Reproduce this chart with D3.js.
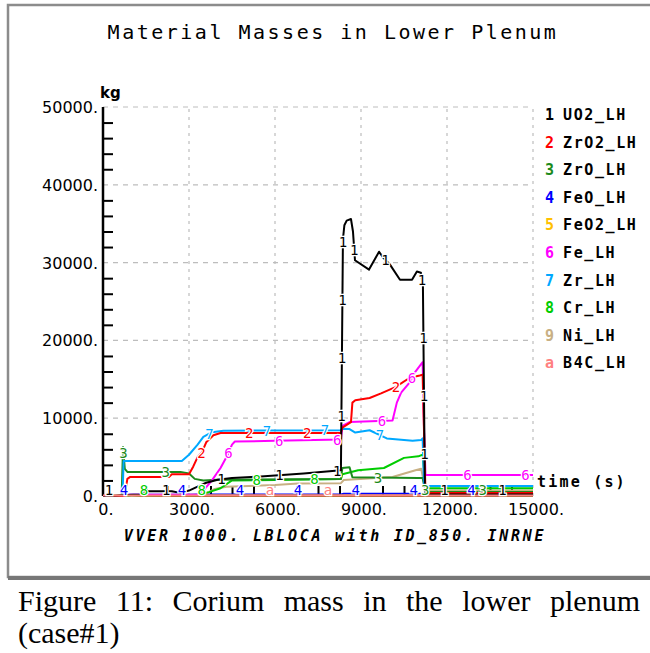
<!DOCTYPE html>
<html>
<head>
<meta charset="utf-8">
<script src="https://cdn.jsdelivr.net/npm/d3@7"></script>
<style>
  body { margin: 0; background: #fff; }
  svg { display: block; }
</style>
</head>
<body>
<div id="chart"></div>
<script>
// time (s) / mass (kg) pairs
const uo2 = [[0,0],[300,0],[600,100],[1300,200],[1500,600],[2400,600],[2700,400],[3000,700],[3300,1200],[3600,1700],[4000,2100],[4500,2300],[5500,2500],[7000,2900],[8300,3300],[8370,33000],[8420,34800],[8500,35400],[8650,35600],[8720,34000],[8790,30300],[9280,29100],[9630,31400],[9770,30650],[10000,29800],[10360,27800],[10780,27800],[10950,28850],[11090,28700],[11160,27000],[11230,500],[11350,200],[15000,200]];
const zro2 = [[0,0],[750,0],[850,2200],[950,2450],[2300,2450],[2400,2800],[3000,2800],[3150,3800],[3300,5000],[3450,5600],[3600,6900],[3850,7800],[4100,8100],[8300,8100],[8350,8800],[8650,9500],[8700,12000],[8800,12300],[9300,12600],[9700,13200],[10200,14000],[10700,15200],[11050,15500],[11150,15600],[11250,400],[15000,400]];
const zro = [[0,0],[650,0],[700,6300],[760,3500],[850,3100],[2700,3100],[3000,2900],[3200,2200],[3500,2000],[4000,2100],[8300,2200],[8350,3600],[8600,3700],[8700,2400],[11000,2300],[11150,2300],[11250,500],[15000,500]];
const feo = [[0,0],[600,0],[800,150],[3000,150],[3300,200],[8300,200],[8400,300],[11100,300],[11250,100],[15000,100]];
const feo2 = [[0,0],[800,60],[8300,80],[11200,60],[15000,60]];
const fe = [[0,0],[700,0],[900,150],[3300,150],[3500,700],[3800,2000],[4100,3600],[4350,5300],[4500,6600],[4600,7000],[6000,7100],[8300,7250],[8350,9000],[8600,9500],[10100,9700],[10250,12000],[10400,13300],[10700,14600],[10900,16000],[11150,17200],[11200,8500],[11250,2700],[15000,2700]];
const zr = [[0,0],[680,0],[720,4500],[2750,4500],[3000,5300],[3300,6600],[3500,7600],[3800,8200],[4200,8400],[8300,8450],[8350,8650],[8600,8600],[8800,8150],[9300,8450],[9900,7400],[10800,7100],[11100,7200],[11150,7400],[11200,1300],[15000,1300]];
const cr = [[0,0],[800,0],[1000,100],[3300,150],[3700,500],[4100,1000],[4500,2000],[6000,2050],[8300,2200],[8350,2800],[8900,3300],[9800,3600],[10500,4900],[11000,5100],[11150,5300],[11250,1000],[15000,1000]];
const ni = [[0,0],[1000,0],[1300,100],[3500,150],[3900,900],[4300,1200],[6000,1400],[6800,1600],[8300,1650],[8400,2050],[10100,2450],[10900,3300],[11100,3500],[11250,700],[15000,700]];
const b4c = [[0,80],[15000,80]];

const seriesNames = ["UO2_LH", "ZrO2_LH", "ZrO_LH", "FeO_LH", "FeO2_LH", "Fe_LH", "Zr_LH", "Cr_LH", "Ni_LH", "B4C_LH"];
const seriesSymbols = ["1", "2", "3", "4", "5", "6", "7", "8", "9", "a"];
const seriesColors = ["#000000", "#ff0000", "#1b8a1b", "#0000ff", "#ffc000", "#ff00ff", "#00a8ff", "#00cc00", "#c8b084", "#ff8080"];
const seriesData = [uo2, zro2, zro, feo, feo2, fe, zr, cr, ni, b4c];

const xTicks = [0, 3000, 6000, 9000, 12000, 15000];
const yTicks = [0, 10000, 20000, 30000, 40000, 50000];

const width = 650, height = 653;
const svg = d3.select("#chart").append("svg")
    .attr("width", width)
    .attr("height", height);

// frame
svg.append("rect")
    .attr("x", 8).attr("y", 5)
    .attr("width", 660).attr("height", 572)
    .attr("fill", "none")
    .attr("stroke", "#8c8c8c")
    .attr("stroke-width", 2.5);
svg.append("line")
    .attr("x1", 8).attr("x2", 650)
    .attr("y1", 578).attr("y2", 578)
    .attr("stroke", "#777")
    .attr("stroke-width", 4);

const x = d3.scaleLinear().domain([0, 15000]).range([103, 533]);
const y = d3.scaleLinear().domain([0, 50000]).range([496, 107]);

// title
svg.append("text")
    .attr("x", 333).attr("y", 39)
    .attr("text-anchor", "middle")
    .style("font-family", "DejaVu Sans Mono")
    .style("font-size", "20px")
    .style("letter-spacing", "2.5px")
    .text("Material Masses in Lower Plenum");

// grid
const grid = svg.append("g");
grid.selectAll(".hgrid")
    .data(yTicks.filter(d => d > 0))
    .enter().append("line")
    .attr("x1", x(0)).attr("x2", x(15000))
    .attr("y1", d => y(d)).attr("y2", d => y(d))
    .attr("stroke", "#bdbdbd")
    .attr("stroke-width", 1.2)
    .attr("stroke-dasharray", "5,5");
grid.selectAll(".vgrid")
    .data(xTicks.filter(d => d > 0))
    .enter().append("line")
    .attr("x1", d => x(d)).attr("x2", d => x(d))
    .attr("y1", y(0)).attr("y2", y(50000))
    .attr("stroke", "#bdbdbd")
    .attr("stroke-width", 1.2)
    .attr("stroke-dasharray", "3,5");

// y axis: minor ticks inside, no major tick marks
const yAxis = d3.axisRight(y)
    .tickValues(d3.range(2000, 50000, 2000).filter(d => d % 10000 !== 0))
    .tickSize(10)
    .tickFormat("");
const yAxisG = svg.append("g")
    .attr("transform", `translate(${x(0)},0)`)
    .call(yAxis);
yAxisG.select(".domain").remove();
yAxisG.selectAll(".tick line").attr("stroke", "#000").attr("stroke-width", 2);
svg.append("line")
    .attr("x1", x(0)).attr("x2", x(0))
    .attr("y1", y(50000)).attr("y2", y(0))
    .attr("stroke", "#000").attr("stroke-width", 2.5);

svg.selectAll(".ylab")
    .data(yTicks)
    .enter().append("text")
    .attr("x", 98)
    .attr("y", d => y(d) + 6)
    .attr("text-anchor", "end")
    .style("font-family", "DejaVu Sans")
    .style("font-size", "16px")
    .text(d => d + ".");

// x axis: minor ticks pointing up every 750 s
const xAxis = d3.axisTop(x)
    .tickValues(d3.range(750, 15000, 750).filter(d => d % 3000 !== 0))
    .tickSize(10)
    .tickFormat("");
const xAxisG = svg.append("g")
    .attr("transform", `translate(0,${y(0)})`)
    .call(xAxis);
xAxisG.select(".domain").remove();
xAxisG.selectAll(".tick line").attr("stroke", "#000").attr("stroke-width", 2);
svg.append("line")
    .attr("x1", x(0)).attr("x2", x(15000))
    .attr("y1", y(0)).attr("y2", y(0))
    .attr("stroke", "#000").attr("stroke-width", 2);

svg.selectAll(".xlab")
    .data(xTicks)
    .enter().append("text")
    .attr("x", d => x(d) + 3)
    .attr("y", 515)
    .attr("text-anchor", "middle")
    .style("font-family", "DejaVu Sans")
    .style("font-size", "16px")
    .text(d => d + ".");

svg.append("text")
    .attr("x", 100).attr("y", 98)
    .style("font-family", "DejaVu Sans")
    .style("font-weight", "bold")
    .style("font-size", "15px")
    .text("kg");

svg.append("text")
    .attr("x", 537).attr("y", 487)
    .style("font-family", "DejaVu Sans Mono")
    .style("font-weight", "bold")
    .style("font-size", "15px")
    .style("letter-spacing", "2.2px")
    .text("time (s)");

svg.append("text")
    .attr("x", 335).attr("y", 541)
    .attr("text-anchor", "middle")
    .style("font-family", "DejaVu Sans Mono")
    .style("font-style", "italic")
    .style("font-weight", "bold")
    .style("font-size", "15px")
    .style("letter-spacing", "2.7px")
    .text("VVER 1000. LBLOCA with ID_850. INRNE");

// curves
const line = d3.line()
    .x(d => x(d[0]))
    .y(d => y(d[1]))
    .curve(d3.curveLinear);

const paths = [];
const order = [3, 4, 8, 7, 2, 6, 5, 1, 0, 9];
order.forEach(i => {
    paths[i] = svg.append("path")
        .datum(seriesData[i])
        .attr("d", line)
        .attr("fill", "none")
        .attr("stroke", seriesColors[i])
        .attr("stroke-width", 2)
        .attr("stroke-linejoin", "round");
});

// curve symbols every ~58px along each path, skipping spots already taken
const labelLayer = svg.append("g");
const placed = [];
seriesData.forEach((data, i) => {
    const node = paths[i].node();
    const total = node.getTotalLength();
    for (let s = 6 + i * 5; s < total - 5; s += 58) {
        const p = node.getPointAtLength(s);
        const py = Math.min(p.y, y(0) - 6);
        if (placed.some(q => Math.abs(q.x - p.x) < 11 && Math.abs(q.y - py) < 14)) continue;
        placed.push({x: p.x, y: py});
        labelLayer.append("text")
            .attr("x", p.x).attr("y", py)
            .attr("text-anchor", "middle")
            .attr("dominant-baseline", "central")
            .attr("fill", seriesColors[i])
            .attr("stroke", "#fff")
            .attr("stroke-width", 2.5)
            .attr("paint-order", "stroke")
            .style("font-family", "DejaVu Sans Mono")
            .style("font-size", "14px")
            .text(seriesSymbols[i]);
    }
});

// legend
const legend = svg.append("g");
seriesNames.forEach((name, i) => {
    const ly = 120 + i * 27.6;
    legend.append("text")
        .attr("x", 545).attr("y", ly)
        .attr("fill", seriesColors[i])
        .style("font-family", "DejaVu Sans Mono")
        .style("font-weight", "bold")
        .style("font-size", "15px")
        .text(seriesSymbols[i]);
    legend.append("text")
        .attr("x", 563).attr("y", ly)
        .style("font-family", "DejaVu Sans Mono")
        .style("font-weight", "bold")
        .style("font-size", "15px")
        .style("letter-spacing", "1.6px")
        .text(name);
});

// caption, first line justified
const captionLines = ["Figure 11: Corium mass in the lower plenum", "(case#1)"];
const cap = svg.append("g")
    .style("font-family", "Liberation Serif")
    .style("font-size", "30px");
const words = captionLines[0].split(" ");
const widths = words.map(w => {
    const t = cap.append("text").text(w);
    const wd = t.node().getComputedTextLength();
    t.remove();
    return wd;
});
const gap = (640 - 18 - d3.sum(widths)) / (words.length - 1);
let cx = 18;
words.forEach((w, k) => {
    cap.append("text").attr("x", cx).attr("y", 611).text(w);
    cx += widths[k] + gap;
});
cap.append("text").attr("x", 18).attr("y", 643).text(captionLines[1]);
</script>
</body>
</html>
